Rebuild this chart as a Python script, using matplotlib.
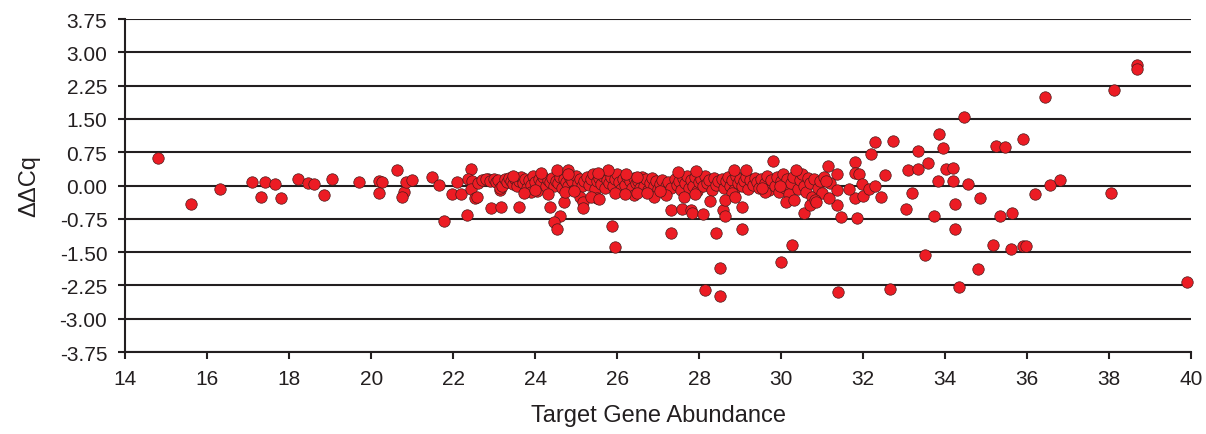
import matplotlib
matplotlib.use("Agg")
import matplotlib.pyplot as plt

plt.rcParams['font.family'] = ['Liberation Sans', 'DejaVu Sans']

# sparse low-abundance targets
low_x = [14.8, 15.6, 16.3, 17.1, 17.3, 17.4, 17.65, 17.8, 18.2, 18.45, 18.6, 18.85, 19.05,
         19.7, 20.19, 20.27, 20.19, 20.63, 20.79, 20.76, 20.84, 21.0, 21.47, 21.64, 21.78,
         22.1, 21.97, 22.18, 22.34, 22.44, 22.36, 22.45, 22.42, 22.52, 22.58, 22.74, 22.85,
         22.93, 22.97, 23.17, 23.13, 23.3]
low_y = [0.62, -0.42, -0.07, 0.09, -0.26, 0.09, 0.03, -0.29, 0.15, 0.06, 0.03, -0.22, 0.15,
         0.09, 0.10, 0.07, -0.16, 0.34, -0.15, -0.26, 0.09, 0.12, 0.19, 0.02, -0.81,
         0.09, -0.19, -0.19, -0.66, 0.38, 0.15, 0.11, -0.07, -0.29, -0.25, 0.12, 0.14,
         -0.50, 0.12, -0.48, -0.09, 0.07]

# dense band of mid-abundance targets
band_x = [22.6, 22.7, 22.8, 22.9, 23.0, 23.05, 23.1, 23.15, 23.2, 23.25, 23.3, 23.35, 23.4, 23.45, 23.5,
          23.55, 23.6, 23.65, 23.7, 23.75, 23.8, 23.85, 23.9, 23.95, 24.0, 24.05, 24.1, 24.15, 24.2,
          24.25, 24.3, 24.35, 24.4, 24.45,
          24.5, 24.55, 24.6, 24.65, 24.7, 24.75, 24.8, 24.85, 24.9, 24.95, 25.0, 25.05, 25.1, 25.15,
          25.2, 25.25, 25.3, 25.35, 25.4, 25.45,
          25.5, 25.55, 25.6, 25.65, 25.7, 25.75, 25.8, 25.85, 25.9, 25.95, 26.0, 26.05, 26.1, 26.15,
          26.2, 26.25, 26.3, 26.35, 26.4, 26.45,
          26.5, 26.55, 26.6, 26.65, 26.7, 26.75, 26.8, 26.85, 26.9, 26.95, 27.0, 27.05, 27.1, 27.15,
          27.2, 27.25, 27.3, 27.4, 27.45,
          27.5, 27.55, 27.6, 27.65, 27.7, 27.75, 27.8, 27.85, 27.9, 27.95, 28.0, 28.05, 28.1, 28.15,
          28.2, 28.25, 28.3, 28.35, 28.4, 28.45,
          28.55, 28.6, 28.65, 28.7, 28.75, 28.8, 28.85, 28.9, 28.95, 29.0, 29.05, 29.1, 29.15, 29.2,
          29.25, 29.3, 29.35, 29.4, 29.45,
          29.5, 29.6, 29.65, 29.7, 29.75, 29.85, 29.9, 29.95, 30.0, 30.05, 30.1, 30.15, 30.2, 30.25,
          30.3, 30.4, 30.45, 30.5, 30.55, 30.6, 30.65, 30.7, 30.75, 30.8, 30.9, 30.95, 31.0, 31.05, 31.2,
          25.5, 26.9, 27.2, 28.8, 24.3, 26.4, 27.9, 29.6, 23.9, 25.1]
band_y = [0.05, 0.12, 0.15, 0.10, 0.14, 0.08, 0.12, -0.05, 0.00, 0.15, 0.07, 0.18, 0.10, 0.04, 0.14,
          -0.02, 0.10, 0.20, 0.05, 0.15, -0.05, 0.12, 0.02, 0.22, 0.08, -0.12, 0.15, 0.05, 0.20,
          -0.02, 0.12, 0.08, 0.18, 0.00,
          0.10, 0.05, 0.20, -0.05, 0.14, 0.08, 0.00, 0.18, 0.10, -0.10, 0.22, 0.05, 0.15, -0.02,
          0.10, 0.20, 0.02, 0.14, 0.25, -0.08,
          0.10, 0.18, 0.04, 0.22, -0.05, 0.12, 0.06, 0.20, 0.00, 0.15, 0.25, 0.08, -0.08, 0.14,
          0.02, 0.20, 0.10, -0.05, 0.16, 0.05,
          0.10, -0.05, 0.20, 0.00, 0.14, -0.10, 0.05, 0.18, -0.02, 0.10, -0.08, 0.04, 0.12, -0.15,
          0.00, 0.08, -0.05, 0.14, 0.02,
          0.10, -0.10, 0.18, 0.05, 0.22, -0.05, 0.12, 0.00, 0.20, -0.12, 0.08, 0.15, -0.02, 0.22,
          0.05, 0.12, -0.10, 0.18, 0.02, 0.10,
          0.15, -0.05, 0.10, 0.20, 0.00, 0.12, -0.10, 0.22, 0.05, 0.15, -0.02, 0.10, 0.20, -0.08,
          0.12, 0.02, 0.18, 0.08, -0.05,
          0.15, 0.05, 0.22, -0.10, 0.12, 0.00, 0.20, -0.15, 0.10, 0.25, -0.05, 0.15, -0.20, 0.05,
          0.20, -0.08, 0.12, 0.25, 0.00, -0.15, 0.18, 0.05, -0.25, 0.15, -0.05, 0.10, -0.18, 0.20, 0.05,
          -0.28, -0.25, -0.22, -0.18, -0.20, -0.22, -0.20, -0.15, -0.15, -0.25]

# scattered mid-abundance outliers
mid_x = [23.6, 24.35, 24.7, 24.6, 24.45, 24.53, 25.17, 25.17, 25.88, 25.94, 24.53, 24.8, 24.8,
         25.78, 25.52, 23.46, 24.13, 23.72, 23.99, 24.72, 24.95, 25.37, 25.56, 25.94, 26.2,
         26.47, 26.22, 26.47,
         27.32, 27.32, 27.59, 27.79, 27.83, 28.09, 28.4, 28.5, 28.13, 28.5, 28.57, 28.64,
         29.04, 29.04, 28.64, 28.87, 28.26, 26.73, 27.05, 27.62, 27.49, 27.93, 28.84, 29.15,
         29.8, 30.27, 30.0, 31.38, 32.65, 30.55, 31.47, 31.86, 31.36, 30.7, 30.11, 30.31,
         30.82, 30.85, 31.17, 31.79, 32.0, 32.44, 32.3, 32.73, 32.18, 31.79, 31.13, 30.35,
         31.35, 31.81, 31.9, 32.54, 31.36, 31.65, 31.96, 32.14, 32.3, 31.1, 29.52, 29.96]
mid_y = [-0.48, -0.48, -0.37, -0.69, -0.83, -0.98, -0.38, -0.50, -0.92, -1.38, 0.34, 0.36, 0.25,
         0.36, 0.29, 0.22, 0.29, -0.18, -0.09, -0.15, -0.13, -0.26, -0.30, -0.17, -0.20,
         -0.17, 0.27, 0.20,
         -0.56, -1.07, -0.53, -0.56, -0.63, -0.65, -1.07, -1.85, -2.36, -2.48, -0.56, -0.69,
         -0.48, -0.98, -0.32, -0.26, -0.35, -0.18, -0.13, -0.26, 0.30, 0.32, 0.36, 0.34,
         0.56, -1.35, -1.73, -2.39, -2.33, -0.63, -0.71, -0.73, -0.45, -0.45, -0.37, -0.32,
         -0.32, -0.37, -0.28, -0.29, -0.23, -0.26, 0.98, 1.00, 0.72, 0.53, 0.45, 0.35,
         0.25, 0.29, 0.25, 0.23, -0.10, -0.08, 0.03, -0.08, 0.00, 0.10, -0.05, 0.00]

# high-abundance targets
high_x = [34.45, 33.85, 33.95, 33.35, 35.23, 35.47, 35.9, 33.58, 33.09, 33.34, 34.02, 34.2,
          33.83, 34.2, 34.56, 33.18, 34.86, 36.2, 33.04, 34.23, 33.72, 35.33, 35.64, 34.23,
          35.16, 35.6, 35.9, 35.98, 33.52, 34.79, 34.35,
          38.69, 38.69, 38.13, 36.44, 36.57, 36.81, 38.05, 39.9]
high_y = [1.54, 1.16, 0.84, 0.78, 0.90, 0.87, 1.04, 0.51, 0.36, 0.37, 0.37, 0.40,
          0.10, 0.10, 0.03, -0.17, -0.28, -0.19, -0.53, -0.41, -0.69, -0.69, -0.63, -0.97,
          -1.34, -1.44, -1.37, -1.37, -1.57, -1.88, -2.28,
          2.72, 2.63, 2.16, 2.00, 0.02, 0.12, -0.17, -2.17]

x_vals = low_x + band_x + mid_x + high_x
y_vals = low_y + band_y + mid_y + high_y

y_ticks = [3.75, 3.00, 2.25, 1.50, 0.75, 0.00, -0.75, -1.50, -2.25, -3.00, -3.75]
x_ticks = [14, 16, 18, 20, 22, 24, 26, 28, 30, 32, 34, 36, 38, 40]

fig = plt.figure(figsize=(12.06, 4.35), dpi=100)
ax = fig.add_axes([0.104, 0.1885, 0.8836, 0.7655])

for yv in y_ticks:
    ax.axhline(yv, color='#231f20', lw=1.5, zorder=1)

ax.scatter(x_vals, y_vals, s=68, color='#ec1c24', edgecolors='#4a1a1a',
           linewidths=0.5, zorder=3, clip_on=False)

ax.set_xlim(14, 40)
ax.set_ylim(-3.75, 3.75)
ax.set_xticks(x_ticks)
ax.set_yticks(y_ticks)
ax.set_yticklabels([f'{v:.2f}' for v in y_ticks])

for side in ('top', 'right'):
    ax.spines[side].set_visible(False)
for side in ('left', 'bottom'):
    ax.spines[side].set_color('#231f20')
    ax.spines[side].set_linewidth(1.5)

ax.tick_params(axis='both', direction='out', length=5, width=1.5, color='#231f20',
               labelsize=15, labelcolor='#231f20')
ax.tick_params(axis='y', pad=8)
ax.tick_params(axis='x', pad=7)

ax.set_xlabel('Target Gene Abundance', fontsize=17, color='#231f20', labelpad=12)
ax.set_ylabel('ΔΔCq', fontsize=17, color='#231f20', labelpad=14)

fig.savefig('out.png', dpi=100)
